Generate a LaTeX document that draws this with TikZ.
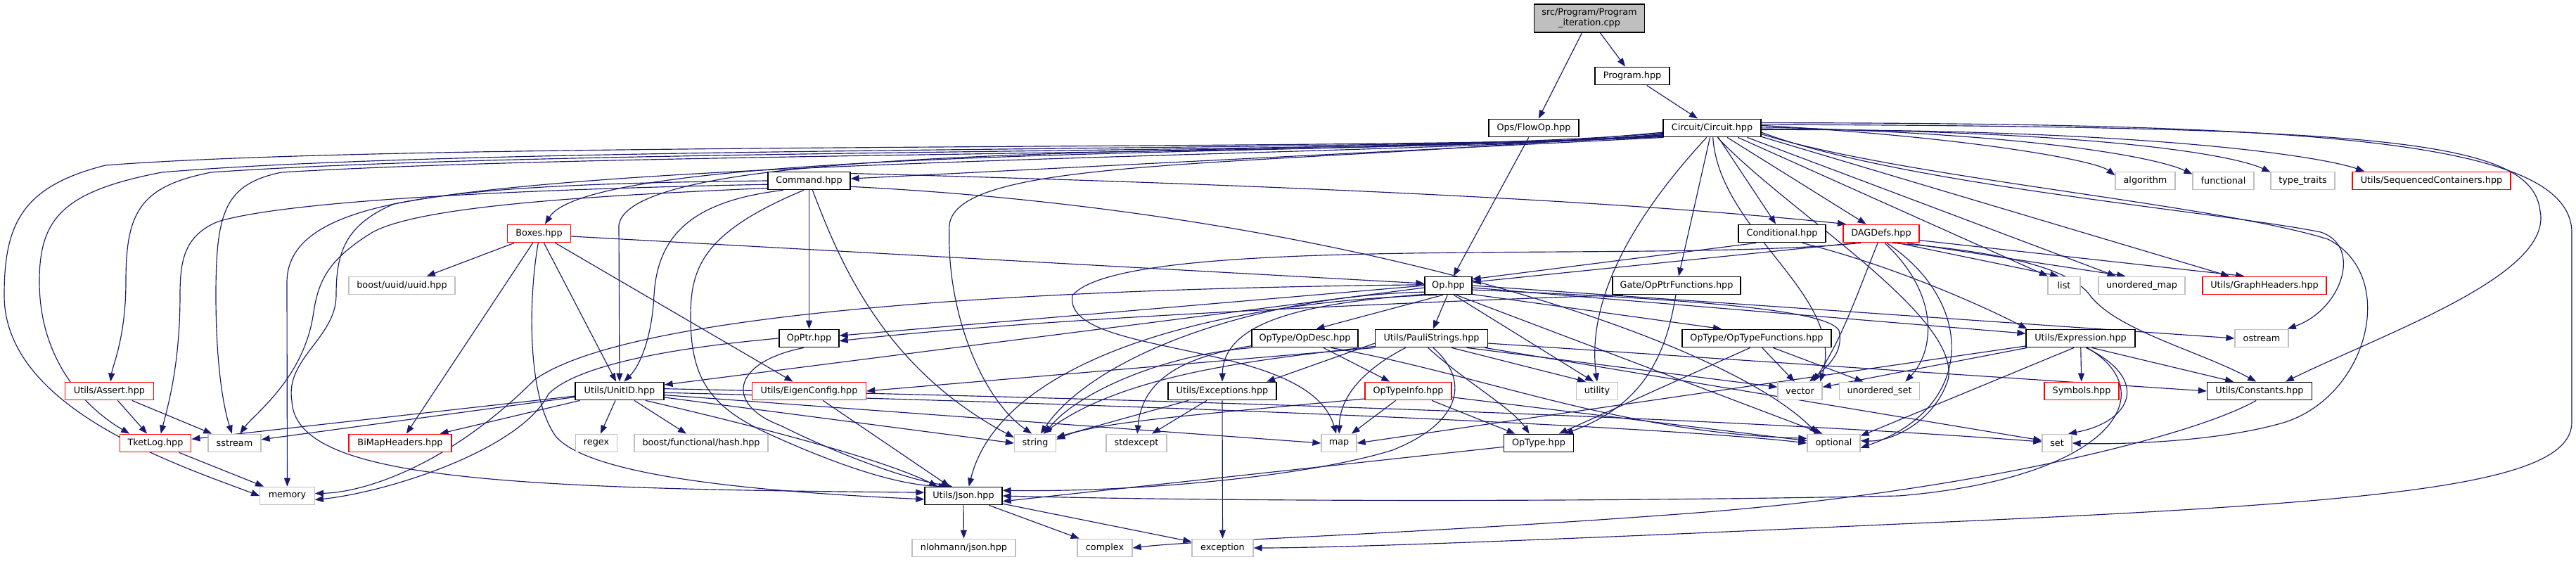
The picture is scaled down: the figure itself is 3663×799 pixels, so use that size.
\documentclass[tikz,border=0pt]{standalone}
\usepackage{fontspec}
\setmainfont{DejaVu Sans}
\usetikzlibrary{arrows.meta}
\definecolor{edgeblue}{HTML}{191970}
\definecolor{nodegray}{HTML}{BFBFBF}
\definecolor{nodered}{HTML}{FF0000}
\newcommand\nodefont{\fontsize{12.8}{15.4}\selectfont}
\pgfdeclarelayer{bg}
\pgfdeclarelayer{edges}
\pgfsetlayers{bg,edges,main}
\tikzset{
  nd/.style={draw=black, line width=1.3pt, rectangle, minimum height=25.5pt, inner sep=0pt, font=\nodefont, fill=white},
  rd/.style={nd, draw=nodered},
  gr/.style={nd, draw=nodegray},
  e/.style={draw=edgeblue, line width=1.15pt, -{Triangle[length=12pt,width=9pt]}}
}
\begin{document}
\begin{tikzpicture}[x=1pt,y=-1pt]
\begin{pgfonlayer}{bg}
\fill[white] (0,0) rectangle (3663,799);
\end{pgfonlayer}
\useasboundingbox (0,0) rectangle (3663,799);
% nodes
\node[nd, fill=nodegray, minimum width=157, minimum height=40, align=center] (top) at (2260,26) {src/Program/Program\\\_iteration.cpp};
\node[nd, minimum width=106] (prog) at (2321,108) {Program.hpp};
\node[nd, minimum width=128] (flow) at (2181,182) {Ops/FlowOp.hpp};
\node[nd, minimum width=139] (circ) at (2434.5,182) {Circuit/Circuit.hpp};
\node[nd, minimum width=117] (cmd) at (1150.5,257) {Command.hpp};
\node[gr, minimum width=85] (alg) at (3050.5,257) {algorithm};
\node[gr, minimum width=87] (func) at (3161.5,257) {functional};
\node[gr, minimum width=91] (tt) at (3274.5,257) {type\_traits};
\node[rd, minimum width=225] (seq) at (3457.5,257) {Utils/SequencedContainers.hpp};
\node[rd, minimum width=90] (boxes) at (766.5,332) {Boxes.hpp};
\node[nd, minimum width=124] (cond) at (2534,332) {Conditional.hpp};
\node[rd, minimum width=108] (dag) at (2675,332) {DAGDefs.hpp};
\node[gr, minimum width=151] (uuid) at (571.5,406) {boost/uuid/uuid.hpp};
\node[nd, minimum width=67] (op) at (2059.5,406) {Op.hpp};
\node[nd, minimum width=182] (opf) at (2384,406) {Gate/OpPtrFunctions.hpp};
\node[gr, minimum width=46] (list) at (2935,406) {list};
\node[gr, minimum width=123] (umap) at (3045.5,406) {unordered\_map};
\node[rd, minimum width=176] (graph) at (3220,406) {Utils/GraphHeaders.hpp};
\node[nd, minimum width=85] (opptr) at (1150.5,481) {OpPtr.hpp};
\node[nd, minimum width=151] (opdesc) at (1855.5,481) {OpType/OpDesc.hpp};
\node[nd, minimum width=160] (pauli) at (2035.5,481) {Utils/PauliStrings.hpp};
\node[nd, minimum width=212] (otf) at (2498,481) {OpType/OpTypeFunctions.hpp};
\node[nd, minimum width=155] (expr) at (2958.5,481) {Utils/Expression.hpp};
\node[gr, minimum width=76] (ostream) at (3216,481) {ostream};
\node[rd, minimum width=126] (assert) at (155.5,556) {Utils/Assert.hpp};
\node[nd, minimum width=126] (unitid) at (881,556) {Utils/UnitID.hpp};
\node[rd, minimum width=162] (eigen) at (1150.5,556) {Utils/EigenConfig.hpp};
\node[nd, minimum width=154] (exc) at (1738,556) {Utils/Exceptions.hpp};
\node[rd, minimum width=123] (oti) at (2002.5,556) {OpTypeInfo.hpp};
\node[gr, minimum width=59] (utility) at (2271,556) {utility};
\node[gr, minimum width=63] (vector) at (2559.5,556) {vector};
\node[gr, minimum width=114] (uset) at (2672.5,556) {unordered\_set};
\node[rd, minimum width=106] (sym) at (2960,556) {Symbols.hpp};
\node[nd, minimum width=149] (const) at (3213,556) {Utils/Constants.hpp};
\node[rd, minimum width=101.5] (tket) at (221,630) {TketLog.hpp};
\node[gr, minimum width=75] (sstream) at (333.5,630) {sstream};
\node[rd, minimum width=146] (bimap) at (569,630) {BiMapHeaders.hpp};
\node[gr, minimum width=59] (regex) at (848,630) {regex};
\node[gr, minimum width=190] (hash) at (997,630) {boost/functional/hash.hpp};
\node[gr, minimum width=59] (string) at (1472,630) {string};
\node[gr, minimum width=86] (stdexc) at (1616,630) {stdexcept};
\node[gr, minimum width=50] (map) at (1904,630) {map};
\node[nd, minimum width=98.5] (optype) at (2188,630) {OpType.hpp};
\node[gr, minimum width=75] (optional) at (2607.5,630) {optional};
\node[gr, minimum width=42] (set) at (2925,630) {set};
\node[gr, minimum width=77.5] (memory) at (408.5,705) {memory};
\node[nd, minimum width=110] (json) at (1370,705) {Utils/Json.hpp};
\node[gr, minimum width=147] (nloh) at (1370.5,779) {nlohmann/json.hpp};
\node[gr, minimum width=78] (complex) at (1571,779) {complex};
\node[gr, minimum width=87] (exception) at (1738.5,779) {exception};

\begin{pgfonlayer}{edges}
% top
\draw[e] (top) -- (flow);
\draw[e] (top) -- (prog);
\draw[e] (prog) -- (circ);
\draw[e] (flow) -- (op);
% Circuit
\draw[e] (circ.191) -- (cmd);
\draw[e] (circ) -- (cond);
\draw[e] (circ) -- (dag);
\draw[e] (circ) -- (opf);
\draw[e] (circ.187) .. controls (2000,225) and (850,200) .. (boxes);
\draw[e] (circ.186) .. controls (1900,227) and (900,190) .. (880,320) -- (unitid);
\draw[e] (circ.185) .. controls (1800,240) and (1360,220) .. (1350,320) .. controls (1345,450) and (1400,570) .. (string.110);
\draw[e] (circ.240) .. controls (2330,300) and (2255,420) .. (utility.north);
\draw[e] (circ.275) .. controls (2445,330) and (2625,420) .. (vector.25);
\draw[e] (circ.300) .. controls (2540,300) and (2790,450) .. (2770,540) .. controls (2750,600) and (2690,628) .. (optional.5);
\draw[e] (circ.-20) -- (list.150);
\draw[e] (circ.-15) -- (umap.160);
\draw[e] (circ.-10) -- (graph.165);
\draw[e] (circ.3) .. controls (2800,195) and (2980,228) .. (alg.170);
\draw[e] (circ.1) .. controls (2900,190) and (3070,225) .. (func.168);
\draw[e] (circ.-1) .. controls (3000,186) and (3180,222) .. (tt.165);
\draw[e] (circ.-2) .. controls (3050,183) and (3300,222) .. (seq.172);
\draw[e] (circ.-5) .. controls (2700,262) and (3150,300) .. (3300,330) .. controls (3360,350) and (3330,440) .. (ostream.20);
\draw[e] (circ.-7) .. controls (2700,252) and (3150,290) .. (3310,340) .. controls (3410,390) and (3370,560) .. (3250,600) .. controls (3150,630) and (3000,632) .. (set.east);
\draw[e] (circ.4) .. controls (3400,180) and (3600,200) .. (3612,300) .. controls (3630,390) and (3400,470) .. (const.20);
\draw[e] (circ.6) .. controls (3300,175) and (3655,200) .. (3657,330) -- (3657,600) .. controls (3657,690) and (3400,715) .. (2700,745) .. controls (2200,768) and (1900,779) .. (exception.east);
\draw[e] (circ.190) .. controls (2000,215) and (600,200) .. (150,235) .. controls (30,265) and (6,320) .. (6,420) .. controls (6,580) and (250,660) .. (memory.west);
\draw[e] (circ.189.5) .. controls (2000,217) and (700,205) .. (230,245) .. controls (90,272) and (56,310) .. (56,400) .. controls (56,520) and (130,585) .. (tket.160);
\draw[e] (circ.189) .. controls (2000,219) and (800,210) .. (300,245) .. controls (200,265) and (179,300) .. (179,400) .. controls (179,480) and (160,520) .. (assert);
\draw[e] (circ.188.5) .. controls (2000,221) and (900,215) .. (400,245) .. controls (320,262) and (307,300) .. (307,420) .. controls (307,520) and (318,580) .. (sstream.105);
\draw[e] (circ.188) .. controls (2000,223) and (900,222) .. (560,290) .. controls (490,320) and (478,360) .. (478,420) .. controls (478,480) and (405,510) .. (415,570) .. controls (420,680) and (700,695) .. (json.175);
% Command
\draw[e] (cmd.10) .. controls (1800,262) and (2300,285) .. (dag.165);
\draw[e] (cmd.-8) .. controls (1900,300) and (2450,480) .. (optional.150);
\draw[e] (cmd) -- (opptr);
\draw[e] (cmd.290) .. controls (1190,360) and (1250,520) .. (string.165);
\draw[e] (cmd.240) .. controls (1000,330) and (982,380) .. (982,450) .. controls (982,540) and (1010,580) .. (1100,620) .. controls (1200,665) and (1280,690) .. (json.150);
\draw[e] (cmd.200) .. controls (990,285) and (935,330) .. (930,420) .. controls (927,480) and (910,520) .. (unitid.65);
\draw[e] (cmd.185) .. controls (800,268) and (420,282) .. (310,315) .. controls (262,335) and (256,370) .. (256,420) .. controls (256,520) and (238,580) .. (tket.60);
\draw[e] (cmd.190) .. controls (850,278) and (600,292) .. (530,330) .. controls (465,370) and (452,400) .. (445,450) .. controls (430,540) and (360,590) .. (sstream.60);
\draw[e] (cmd.180) .. controls (650,262) and (410,280) .. (408,400) -- (memory);
% Boxes
\draw[e] (boxes) -- (uuid);
\draw[e] (boxes) -- (bimap);
\draw[e] (boxes) -- (unitid.110);
\draw[e] (boxes) -- (eigen);
\draw[e] (boxes.-5) -- (op.175);
\draw[e] (boxes.265) .. controls (752,420) and (748,560) .. (790,620) .. controls (840,680) and (1100,700) .. (json.185);
% Conditional
\draw[e] (cond.200) -- (op.15);
\draw[e] (cond.-25) .. controls (2700,380) and (2830,440) .. (expr.170);
% DAGDefs
\draw[e] (dag.200) -- (op.8);
\draw[e] (dag.205) .. controls (2350,375) and (1600,330) .. (1525,420) .. controls (1510,510) and (1860,480) .. (map);
\draw[e] (dag.-30) -- (list.120);
\draw[e] (dag.-20) -- (umap.150);
\draw[e] (dag.-10) -- (graph.155);
\draw[e] (dag.250) .. controls (2640,420) and (2620,480) .. (vector.35);
\draw[e] (dag.290) .. controls (2760,420) and (2750,500) .. (uset.20);
\draw[e] (dag.300) .. controls (2810,430) and (2810,580) .. (optional.-10);
\draw[e] (dag.-40) .. controls (2880,360) and (2950,390) .. (2972,420) .. controls (3010,470) and (3130,500) .. (const.110);
% OpPtrFunctions
\draw[e] (opf.265) .. controls (2370,500) and (2340,575) .. (optype.20);
\draw[e] (opf.190) .. controls (2050,428) and (1500,450) .. (opptr.-5);
% Op
\draw[e] (op.185) -- (unitid.8);
\draw[e] (op.180) -- (opptr.5);
\draw[e] (op.178) .. controls (1500,410) and (900,440) .. (760,540) .. controls (640,660) and (520,700) .. (memory.5);
\draw[e] (op.200) .. controls (1880,430) and (1740,450) .. (exc.north);
\draw[e] (op.195) .. controls (1800,420) and (1560,500) .. (string.60);
\draw[e] (op.220) .. controls (1700,430) and (1420,520) .. (json.60);
\draw[e] (op.240) -- (opdesc.40);
\draw[e] (op.265) -- (pauli.80);
\draw[e] (op.-60) -- (utility.110);
\draw[e] (op.-50) -- (optional.140);
\draw[e] (op.-20) -- (otf.165);
\draw[e] (op.-5) -- (expr.175);
\draw[e] (op.0) -- (ostream.west);
\draw[e] (op.-10) .. controls (2400,425) and (2600,440) .. (2615,470) .. controls (2622,500) and (2600,520) .. (vector.45);
% OpDesc
\draw[e] (opdesc) -- (oti);
\draw[e] (opdesc.-20) .. controls (2100,530) and (2300,615) .. (optional.170);
\draw[e] (opdesc.190) .. controls (1650,505) and (1530,560) .. (string.45);
\draw[e] (opdesc.188) .. controls (1700,505) and (1625,530) .. (stdexc);
% PauliStrings
\draw[e] (pauli.200) .. controls (1930,530) and (1905,570) .. (map);
\draw[e] (pauli.250) .. controls (2080,540) and (2150,580) .. (optype.135);
\draw[e] (pauli.-80) .. controls (2090,540) and (2080,600) .. (1980,640) .. controls (1850,680) and (1600,700) .. (json.8);
\draw[e] (pauli.-25) -- (utility.140);
\draw[e] (pauli.-15) -- (vector.170);
\draw[e] (pauli.-5) -- (const.west);
\draw[e] (pauli.-10) -- (set.170);
\draw[e] (pauli.south west) -- (eigen.east);
\draw[e] (pauli.185) -- (exc.12);
\draw[e] (pauli.188) .. controls (1800,510) and (1600,530) .. (string.50);
% OpTypeInfo
\draw[e] (oti) -- (map);
\draw[e] (oti) -- (optype);
\draw[e] (oti.-8) -- (optional.175);
\draw[e] (oti.190) .. controls (1700,590) and (1560,600) .. (string.10);
% OpTypeFunctions
\draw[e] (otf.235) -- (optype.25);
\draw[e] (otf.-60) -- (vector.120);
\draw[e] (otf.-30) -- (uset.150);
% Expression
\draw[e] (expr) -- (sym);
\draw[e] (expr.-40) -- (const.160);
\draw[e] (expr.-60) .. controls (3060,540) and (3030,600) .. (set.40);
\draw[e] (expr.-55) .. controls (3080,560) and (3000,680) .. (2700,705) .. controls (2200,715) and (1700,712) .. (json.east);
\draw[e] (expr.190) -- (vector.10);
\draw[e] (expr.188) -- (map.east);
\draw[e] (expr.235) -- (optional.15);
% Constants
\draw[e] (const.250) .. controls (3120,620) and (2800,700) .. (2400,730) .. controls (2000,760) and (1700,768) .. (complex.east);
% UnitID
\draw[e] (unitid) -- (regex);
\draw[e] (unitid) -- (hash);
\draw[e] (unitid) -- (bimap);
\draw[e] (unitid) -- (tket);
\draw[e] (unitid) -- (sstream);
\draw[e] (unitid.-8) -- (string.180);
\draw[e] (unitid.-5) -- (map.180);
\draw[e] (unitid.-2) .. controls (1800,580) and (2400,610) .. (optional.west);
\draw[e] (unitid.3) .. controls (2000,575) and (2600,605) .. (set.175);
\draw[e] (unitid.-20) .. controls (1050,600) and (1250,650) .. (json.160);
% OpPtr
\draw[e] (opptr.240) .. controls (1040,515) and (1030,575) .. (1110,605) .. controls (1180,640) and (1280,680) .. (json.140);
\draw[e] (opptr.west) .. controls (950,495) and (820,520) .. (780,560) .. controls (740,640) and (550,700) .. (memory.-8);
% others
\draw[e] (eigen) -- (json);
\draw[e] (optype) -- (json.-8);
\draw[e] (exc) -- (string);
\draw[e] (exc) -- (stdexc);
\draw[e] (exc) -- (exception);
\draw[e] (assert) -- (tket);
\draw[e] (assert) -- (sstream);
\draw[e] (tket) -- (memory);
\draw[e] (json) -- (nloh);
\draw[e] (json) -- (complex);
\draw[e] (json) -- (exception);
\end{pgfonlayer}
\end{tikzpicture}
\end{document}
